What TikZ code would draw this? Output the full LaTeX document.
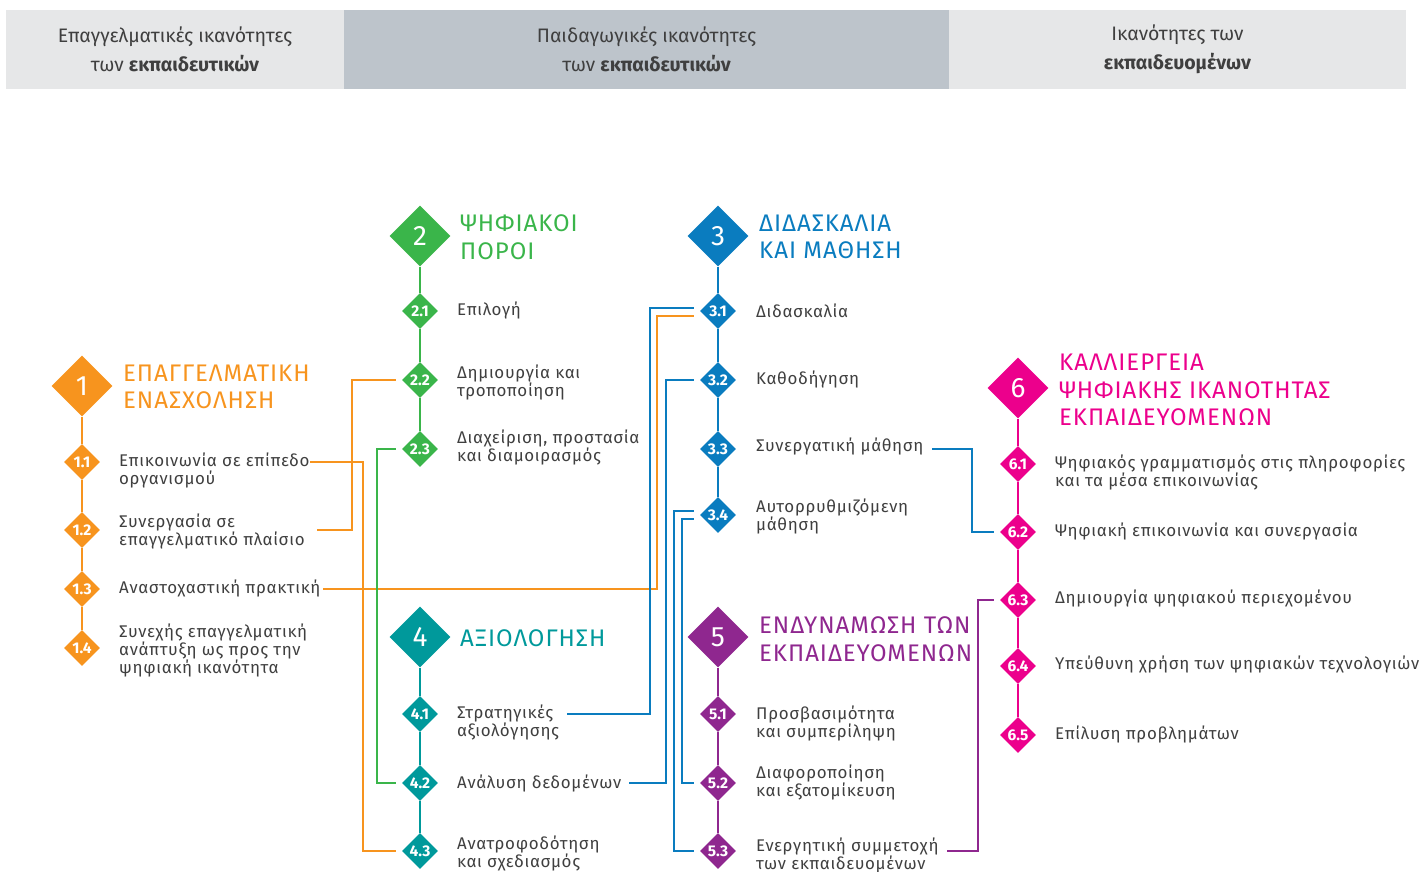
\documentclass[tikz,border=0pt]{standalone}
\usepackage{fontspec}
\setmainfont{Fira Sans}
\newfontfamily\bodyfont[LetterSpace=4]{Fira Sans}
\newfontfamily\titlefont[LetterSpace=4]{Fira Sans}
\usetikzlibrary{shapes.geometric}

\definecolor{orng}{HTML}{F7941E}
\definecolor{grn}{HTML}{3AB54A}
\definecolor{blu}{HTML}{0A7CBF}
\definecolor{tea}{HTML}{00999B}
\definecolor{prp}{HTML}{8F278F}
\definecolor{mag}{HTML}{EC008C}
\definecolor{hdrlight}{HTML}{E6E7E8}
\definecolor{hdrdark}{HTML}{BDC4CB}
\definecolor{txt}{HTML}{3F3F3F}

\tikzset{
  bigdia/.style={diamond, fill=#1, inner sep=0pt, minimum size=61pt, text=white, font=\fontsize{28}{28}\selectfont},
  subdia/.style={diamond, fill=#1, inner sep=0pt, minimum size=36pt, text=white, font=\fontsize{15.5}{15.5}\selectfont\bfseries},
  ttl/.style={anchor=west, align=left, inner sep=0pt, text=#1, font=\titlefont\fontsize{24}{27.5}\selectfont},
  lbl/.style={anchor=west, align=left, inner sep=0pt, text=txt, font=\bodyfont\fontsize{16.9}{18}\selectfont},
  hdr/.style={fill=#1, minimum height=79pt, align=center, text=txt, font=\fontsize{19.5}{29}\selectfont},
  stem/.style={draw=#1, line width=2pt},
  link/.style={draw=#1, line width=1.4pt},
}

\begin{document}
\begin{tikzpicture}[x=1pt, y=-1pt]
      \useasboundingbox (0,0) rectangle (1427,872);

      % header bar
      \node[hdr=hdrlight, minimum width=338pt] (h1) at (175,49.5) {Επαγγελματικές ικανότητες\\των \textbf{εκπαιδευτικών}};
      \node[hdr=hdrdark, minimum width=605pt] (h2) at (646.5,49.5) {Παιδαγωγικές ικανότητες\\των \textbf{εκπαιδευτικών}};
      \node[hdr=hdrlight, minimum width=457pt] (h3) at (1177.5,49.5) {Ικανότητες των\\\textbf{εκπαιδευομένων}};

      % area 1
      \node[bigdia=orng] (d1) at (82,386) {1};
      \node[ttl=orng] (t1) at (123,387) {ΕΠΑΓΓΕΛΜΑΤΙΚΗ\\ΕΝΑΣΧΟΛΗΣΗ};
      \node[subdia=orng] (d11) at (82,462) {1.1};
      \node[subdia=orng] (d12) at (82,530) {1.2};
      \node[subdia=orng] (d13) at (82,589) {1.3};
      \node[subdia=orng] (d14) at (82,648) {1.4};
      \node[lbl] (l11) at (119,471) {Επικοινωνία σε επίπεδο\\οργανισμού};
      \node[lbl] (l12) at (119,532) {Συνεργασία σε\\επαγγελματικό πλαίσιο};
      \node[lbl] (l13) at (119,588) {Αναστοχαστική πρακτική};
      \node[lbl] (l14) at (119,650) {Συνεχής επαγγελματική\\ανάπτυξη ως προς την\\ψηφιακή ικανότητα};
      \draw[stem=orng] (d1) -- (d11) -- (d12) -- (d13) -- (d14);

      % area 2
      \node[bigdia=grn] (d2) at (420,236) {2};
      \node[ttl=grn] (t2) at (460,237) {ΨΗΦΙΑΚΟΙ\\ΠΟΡΟΙ};
      \node[subdia=grn] (d21) at (420,311) {2.1};
      \node[subdia=grn] (d22) at (420,380) {2.2};
      \node[subdia=grn] (d23) at (420,449) {2.3};
      \node[lbl] (l21) at (457,311) {Επιλογή};
      \node[lbl] (l22) at (457,382) {Δημιουργία και\\τροποποίηση};
      \node[lbl] (l23) at (457,447) {Διαχείριση, προστασία\\και διαμοιρασμός};
      \draw[stem=grn] (d2) -- (d21) -- (d22) -- (d23);

      % area 3
      \node[bigdia=blu] (d3) at (718,236) {3};
      \node[ttl=blu] (t3) at (759,237) {ΔΙΔΑΣΚΑΛΙΑ\\ΚΑΙ ΜΑΘΗΣΗ};
      \node[subdia=blu] (d31) at (718,311) {3.1};
      \node[subdia=blu] (d32) at (718,380) {3.2};
      \node[subdia=blu] (d33) at (718,449) {3.3};
      \node[subdia=blu] (d34) at (718,515) {3.4};
      \node[lbl] (l31) at (756,311) {Διδασκαλία};
      \node[lbl] (l32) at (756,380) {Καθοδήγηση};
      \node[lbl] (l33) at (756,447) {Συνεργατική μάθηση};
      \node[lbl] (l34) at (756,516) {Αυτορρυθμιζόμενη\\μάθηση};
      \draw[stem=blu] (d3) -- (d31) -- (d32) -- (d33) -- (d34);

      % area 4
      \node[bigdia=tea] (d4) at (420,637) {4};
      \node[ttl=tea] (t4) at (460,638) {ΑΞΙΟΛΟΓΗΣΗ};
      \node[subdia=tea] (d41) at (420,714) {4.1};
      \node[subdia=tea] (d42) at (420,783) {4.2};
      \node[subdia=tea] (d43) at (420,851) {4.3};
      \node[lbl] (l41) at (457,722) {Στρατηγικές\\αξιολόγησης};
      \node[lbl] (l42) at (457,783) {Ανάλυση δεδομένων};
      \node[lbl] (l43) at (457,853) {Ανατροφοδότηση\\και σχεδιασμός};
      \draw[stem=tea] (d4) -- (d41) -- (d42) -- (d43);

      % area 5
      \node[bigdia=prp] (d5) at (718,637) {5};
      \node[ttl=prp] (t5) at (759,639) {ΕΝΔΥΝΑΜΩΣΗ ΤΩΝ\\ΕΚΠΑΙΔΕΥΟΜΕΝΩΝ};
      \node[subdia=prp] (d51) at (718,714) {5.1};
      \node[subdia=prp] (d52) at (718,783) {5.2};
      \node[subdia=prp] (d53) at (718,851) {5.3};
      \node[lbl] (l51) at (756,723) {Προσβασιμότητα\\και συμπερίληψη};
      \node[lbl] (l52) at (756,782) {Διαφοροποίηση\\και εξατομίκευση};
      \node[lbl] (l53) at (756,855) {Ενεργητική συμμετοχή\\των εκπαιδευομένων};
      \draw[stem=prp] (d5) -- (d51) -- (d52) -- (d53);

      % area 6
      \node[bigdia=mag] (d6) at (1018,388) {6};
      \node[ttl=mag] (t6) at (1059,390) {ΚΑΛΛΙΕΡΓΕΙΑ\\ΨΗΦΙΑΚΗΣ ΙΚΑΝΟΤΗΤΑΣ\\ΕΚΠΑΙΔΕΥΟΜΕΝΩΝ};
      \node[subdia=mag] (d61) at (1018,464) {6.1};
      \node[subdia=mag] (d62) at (1018,532) {6.2};
      \node[subdia=mag] (d63) at (1018,600) {6.3};
      \node[subdia=mag] (d64) at (1018,666) {6.4};
      \node[subdia=mag] (d65) at (1018,735) {6.5};
      \node[lbl] (l61) at (1055,472) {Ψηφιακός γραμματισμός στις πληροφορίες\\και τα μέσα επικοινωνίας};
      \node[lbl] (l62) at (1055,532) {Ψηφιακή επικοινωνία και συνεργασία};
      \node[lbl] (l63) at (1055,599) {Δημιουργία ψηφιακού περιεχομένου};
      \node[lbl] (l64) at (1055,665) {Υπεύθυνη χρήση των ψηφιακών τεχνολογιών};
      \node[lbl] (l65) at (1055,734) {Επίλυση προβλημάτων};
      \draw[stem=mag] (d6) -- (d61) -- (d62) -- (d63) -- (d64) -- (d65);

      % cross links
      \draw[link=orng] ([xshift=-6pt]d43.west) -- ++(-33,0) |- (l11.east |- d11);
      \draw[link=orng] ([xshift=-6pt]d22.west) -- ++(-44,0) |- ([xshift=12pt]l12.east |- d12);
      \draw[link=orng] ([xshift=-6pt,yshift=-5pt]d31.west) -- ++(-37,0) |- ([xshift=2pt]l13.east |- d13);
      \draw[link=blu] ([xshift=-6pt,yshift=3pt]d31.west) -- ++(-44,0) |- ([xshift=8pt]l41.east |- d41);
      \draw[link=grn] ([xshift=-6pt]d42.west) -- ++(-19,0) |- ([xshift=-6pt]d23.west);
      \draw[link=blu] ([xshift=-6pt]d32.west) -- ++(-28,0) |- ([xshift=7pt]l42.east |- d42);
      \draw[link=blu] ([xshift=-6pt]d53.west) -- ++(-20,0) |- ([xshift=-6pt,yshift=4pt]d34.west);
      \draw[link=blu] ([xshift=-6pt]d52.west) -- ++(-12,0) |- ([xshift=-6pt,yshift=-4pt]d34.west);
      \draw[link=blu] ([xshift=-6pt]d62.west) -- ++(-22,0) |- ([xshift=8pt]l33.east |- d33);
      \draw[link=prp] ([xshift=-6pt]d63.west) -- ++(-16,0) |- ([xshift=8pt]l53.east |- d53);
\end{tikzpicture}
\end{document}
